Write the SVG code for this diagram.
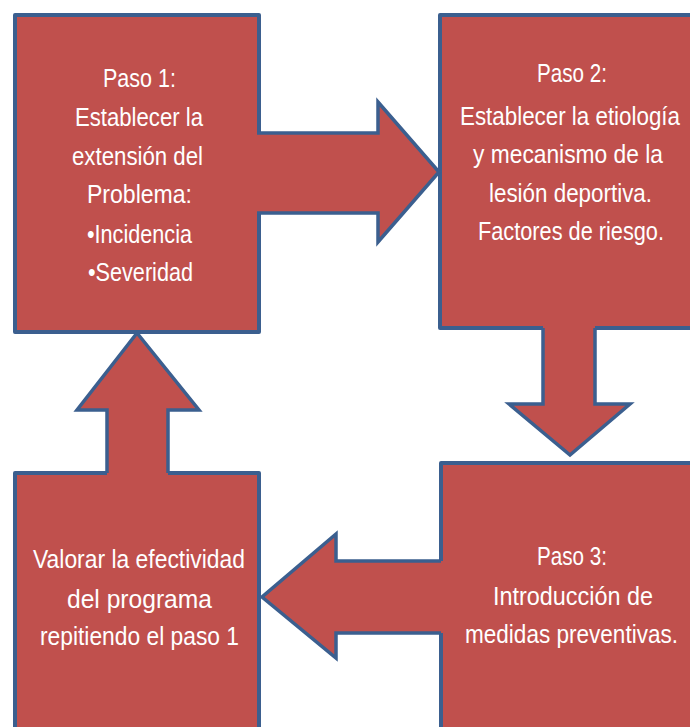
<svg xmlns="http://www.w3.org/2000/svg" width="690" height="727" viewBox="0 0 690 727">
<style>
.box{fill:#C0504D;stroke:#3B5F8F;stroke-width:4;stroke-linejoin:round}
.af{fill:#C0504D;stroke:none}
.as{fill:none;stroke:#3B5F8F;stroke-width:3.5;stroke-linejoin:miter}
.t{font-family:"Liberation Sans",Arial,sans-serif;font-size:25px;fill:#FFFFFF;text-anchor:middle}
</style>
<rect width="690" height="727" fill="#FFFFFF"/>
<g id="paso1">
<rect class="box" x="15" y="15" width="244" height="317"/>
<text class="t" x="139.5" y="87" textLength="73" lengthAdjust="spacingAndGlyphs">Paso 1:</text>
<text class="t" x="139" y="126" textLength="128" lengthAdjust="spacingAndGlyphs">Establecer la</text>
<text class="t" x="137.5" y="165" textLength="131" lengthAdjust="spacingAndGlyphs">extensión del</text>
<text class="t" x="139.5" y="203" textLength="105" lengthAdjust="spacingAndGlyphs">Problema:</text>
<text class="t" x="139.5" y="243" textLength="105" lengthAdjust="spacingAndGlyphs">•Incidencia</text>
<text class="t" x="140.5" y="281" textLength="105" lengthAdjust="spacingAndGlyphs">•Severidad</text>
</g>
<g id="paso2">
<rect class="box" x="440" y="15" width="260" height="313"/>
<text class="t" x="572" y="82" textLength="70" lengthAdjust="spacingAndGlyphs">Paso 2:</text>
<text class="t" x="570" y="125" textLength="220" lengthAdjust="spacingAndGlyphs">Establecer la etiología</text>
<text class="t" x="568" y="163" textLength="190" lengthAdjust="spacingAndGlyphs">y mecanismo de la</text>
<text class="t" x="570.5" y="202" textLength="163" lengthAdjust="spacingAndGlyphs">lesión deportiva.</text>
<text class="t" x="571" y="240" textLength="186" lengthAdjust="spacingAndGlyphs">Factores de riesgo.</text>
</g>
<g id="paso3">
<rect class="box" x="441" y="463" width="260" height="280"/>
<text class="t" x="572" y="565" textLength="70" lengthAdjust="spacingAndGlyphs">Paso 3:</text>
<text class="t" x="573" y="605" textLength="160" lengthAdjust="spacingAndGlyphs">Introducción de</text>
<text class="t" x="571.5" y="643" textLength="213" lengthAdjust="spacingAndGlyphs">medidas preventivas.</text>
</g>
<g id="valorar">
<rect class="box" x="15" y="473" width="244" height="270"/>
<text class="t" x="139" y="568" textLength="212" lengthAdjust="spacingAndGlyphs">Valorar la efectividad</text>
<text class="t" x="139.5" y="608" textLength="145" lengthAdjust="spacingAndGlyphs">del programa</text>
<text class="t" x="139.5" y="645" textLength="199" lengthAdjust="spacingAndGlyphs">repitiendo el paso 1</text>
</g>
<g id="connectors">
<g id="arrow-1-2">
<polygon class="af" points="254,133 378,133 378,102 439,172 378,242 378,213 254,213"/>
<polyline class="as" points="257,133 378,133 378,102 439,172 378,242 378,213 257,213"/>
</g>
<g id="arrow-2-3">
<polygon class="af" points="543,325 595,325 595,404 630,404 570,455 509,404 543,404"/>
<polyline class="as" points="543,328 543,404 509,404 570,455 630,404 595,404 595,328"/>
</g>
<g id="arrow-3-4">
<polygon class="af" points="444,561 336,561 336,534 262,597 336,658 336,633 444,633"/>
<polyline class="as" points="441,561 336,561 336,534 262,597 336,658 336,633 441,633"/>
</g>
<g id="arrow-4-1">
<polygon class="af" points="107,476 107,410 77,410 137,333 199,410 168,410 168,476"/>
<polyline class="as" points="107,473 107,410 77,410 137,333 199,410 168,410 168,473"/>
</g>
</g>
</svg>
